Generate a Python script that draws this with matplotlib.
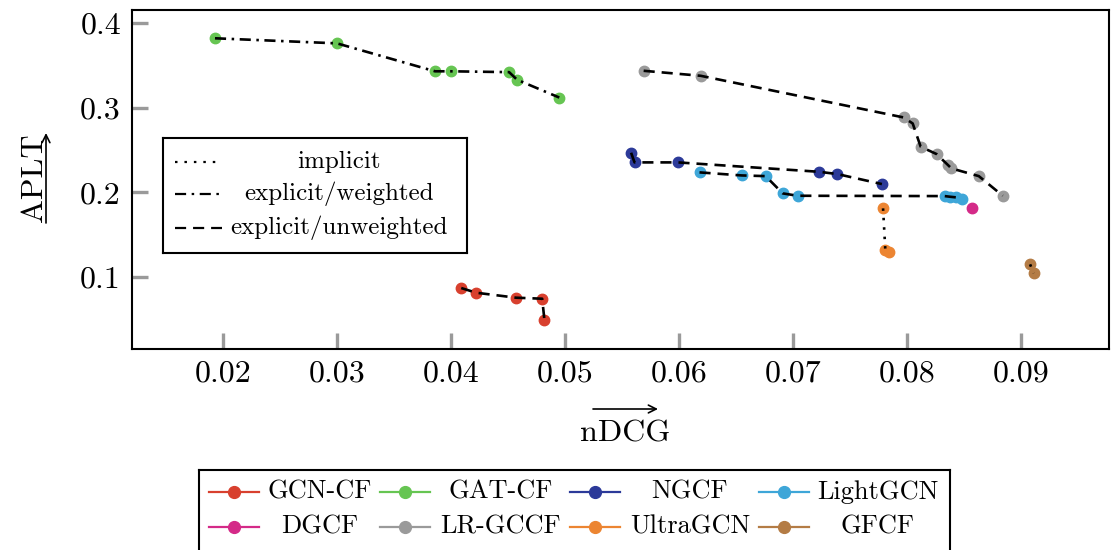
import matplotlib.pyplot as plt

plt.rcParams['font.family'] = 'serif'
plt.rcParams['font.serif'] = ['cmr10']
plt.rcParams['mathtext.fontset'] = 'cm'
plt.rcParams['axes.formatter.use_mathtext'] = True
plt.rcParams['lines.scale_dashes'] = False

# datos (nDCG, APLT)
models = ['GCN-CF', 'GAT-CF', 'NGCF', 'LightGCN', 'DGCF', 'LR-GCCF', 'UltraGCN', 'GFCF']
colors = ['#d8402e', '#66c552', '#2c3a99', '#3ea6d8', '#d42a88', '#9a9a9a', '#ec8532', '#b47c45']
kinds = ['unweighted', 'weighted', 'unweighted', 'unweighted', None, 'unweighted', 'implicit', 'implicit']

gcncf_ndcg = [0.0409, 0.0422, 0.0457, 0.0480, 0.0482]
gcncf_aplt = [0.087, 0.0815, 0.0756, 0.0744, 0.049]

gatcf_ndcg = [0.0193, 0.0300, 0.0386, 0.0400, 0.0451, 0.0458, 0.0495]
gatcf_aplt = [0.382, 0.376, 0.343, 0.343, 0.342, 0.333, 0.312]

ngcf_ndcg = [0.0558, 0.0561, 0.0599, 0.0723, 0.0739, 0.0778]
ngcf_aplt = [0.2468, 0.2354, 0.2354, 0.2243, 0.2216, 0.2098]

lightgcn_ndcg = [0.0618, 0.0655, 0.0676, 0.0691, 0.0704, 0.0833, 0.0838, 0.0843, 0.0848]
lightgcn_aplt = [0.2236, 0.2200, 0.2192, 0.1988, 0.1960, 0.1956, 0.1948, 0.1941, 0.1917]

dgcf_ndcg = [0.0857]
dgcf_aplt = [0.1811]

lrgccf_ndcg = [0.0569, 0.0619, 0.0797, 0.0805, 0.0812, 0.0826, 0.0836, 0.0839, 0.0863, 0.0884]
lrgccf_aplt = [0.3436, 0.3377, 0.2885, 0.2814, 0.2539, 0.2452, 0.2322, 0.2283, 0.2192, 0.1960]

ultragcn_ndcg = [0.0779, 0.0781, 0.0784]
ultragcn_aplt = [0.1811, 0.1319, 0.1295]

gfcf_ndcg = [0.0908, 0.0911]
gfcf_aplt = [0.1150, 0.1044]

series_x = [gcncf_ndcg, gatcf_ndcg, ngcf_ndcg, lightgcn_ndcg, dgcf_ndcg, lrgccf_ndcg, ultragcn_ndcg, gfcf_ndcg]
series_y = [gcncf_aplt, gatcf_aplt, ngcf_aplt, lightgcn_aplt, dgcf_aplt, lrgccf_aplt, ultragcn_aplt, gfcf_aplt]

kind_labels = ['implicit', 'explicit/weighted', 'explicit/unweighted']
kind_keys = ['implicit', 'weighted', 'unweighted']
dashes = {'implicit': (0, (1.8, 5)),
          'weighted': (0, (8, 4, 1.8, 4)),
          'unweighted': (0, (8, 5))}

xticks = [0.02, 0.03, 0.04, 0.05, 0.06, 0.07, 0.08, 0.09]
yticks = [0.1, 0.2, 0.3, 0.4]

W, H = 1111, 550


def box(x0, y0, x1, y1):
    # pixeles (origen arriba a la izquierda) -> fraccion de figura
    return [x0 / W, 1 - y1 / H, (x1 - x0) / W, (y1 - y0) / H]


fig = plt.figure(figsize=(W / 100, H / 100), dpi=100)
ax = fig.add_axes(box(132, 10, 1109, 349))

for x, y, c, k in zip(series_x, series_y, colors, kinds):
    ax.plot(x, y, 'o', color=c, ms=7.5, zorder=2)
    if k is not None:
        ax.plot(x, y, color='black', lw=1.9, ls=dashes[k], zorder=3)

ax.set_xlim(0.01202, 0.09772)
ax.set_ylim(0.015, 0.4154)
ax.set_xticks(xticks, labels=[f'{t:.2f}' for t in xticks])
ax.set_yticks(yticks, labels=[f'{t:.1f}' for t in yticks])
ax.tick_params(direction='in', length=11.5, width=2.4, color='#9a9a9a', labelsize=23, pad=8)
for s in ax.spines.values():
    s.set_linewidth(1.5)

# etiquetas con flecha
fig.text(625 / W, 1 - 441 / H, 'nDCG', ha='center', va='baseline', size=23)
fig.text(42 / W, 1 - 178 / H, 'APLT', rotation=90, rotation_mode='anchor',
         ha='center', va='baseline', size=23)
arrow = dict(arrowstyle='->', lw=1.2, mutation_scale=14, shrinkA=0, shrinkB=0)
ax.annotate('', xy=(658, H - 409), xytext=(593, H - 409), xycoords='figure pixels', arrowprops=arrow)
ax.annotate('', xy=(46, H - 133), xytext=(46, H - 223), xycoords='figure pixels', arrowprops=arrow)

# leyenda de estilos de linea
lax = fig.add_axes(box(163, 138, 467, 253))
lax.set_xlim(163, 467)
lax.set_ylim(253, 138)
lax.set_xticks([])
lax.set_yticks([])
for s in lax.spines.values():
    s.set_linewidth(1.5)
for yy, key, lab in zip([162, 194, 228], kind_keys, kind_labels):
    lax.plot([175, 222], [yy, yy], color='black', lw=1.6, ls=dashes[key])
    lax.text(339, yy, lab, ha='center', va='center', size=18)

# leyenda de modelos
bax = fig.add_axes(box(199, 470, 950, 566))
bax.set_xlim(199, 950)
bax.set_ylim(566, 470)
bax.set_xticks([])
bax.set_yticks([])
for s in bax.spines.values():
    s.set_linewidth(1.5)
col_start = [209, 380, 570, 759]
col_text = [320, 501, 690, 878]
row_y = [492, 527]
for i, (m, c) in enumerate(zip(models, colors)):
    r, col = divmod(i, 4)
    x0 = col_start[col]
    bax.plot([x0, x0 + 50], [row_y[r], row_y[r]], color=c, lw=1.6)
    bax.plot([x0 + 25], [row_y[r]], 'o', color=c, ms=8.5)
    bax.text(col_text[col], row_y[r], m, ha='center', va='center', size=19)

fig.savefig('out.png', dpi=100)
